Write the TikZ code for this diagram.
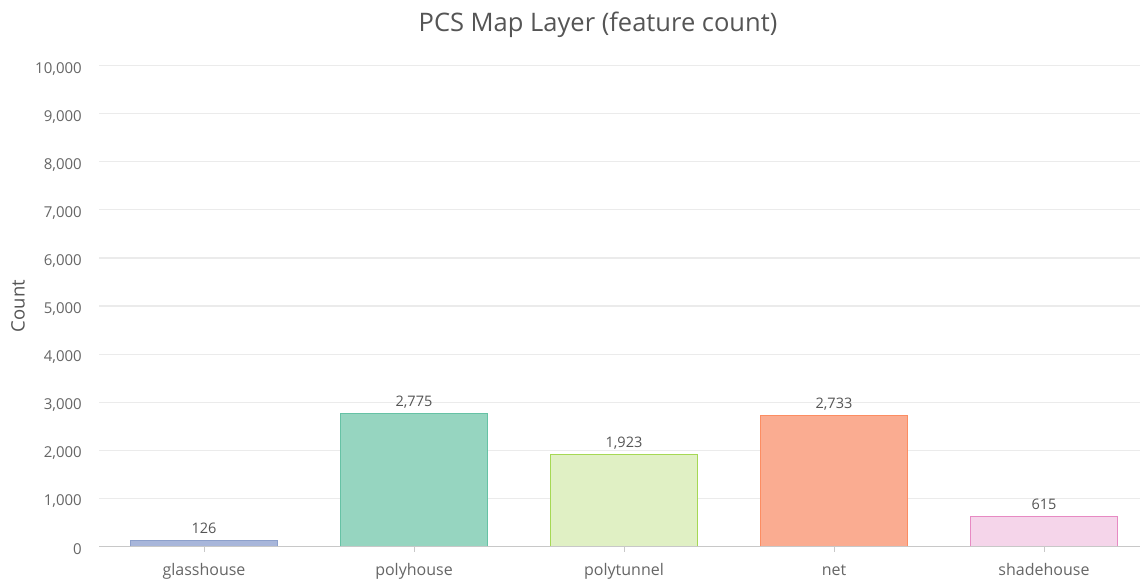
\documentclass[tikz,border=0pt]{standalone}
\usepackage{fontspec}
\setmainfont{Open Sans}
\definecolor{txt}{HTML}{555555}
\definecolor{ticktxt}{HTML}{666666}
\definecolor{gridc}{HTML}{EBEBEB}
\definecolor{axisc}{HTML}{C8C8C8}
\definecolor{gfill}{HTML}{A8B6DA}\definecolor{gline}{HTML}{8DA0CB}
\definecolor{pfill}{HTML}{96D5C0}\definecolor{pline}{HTML}{66C2A5}
\definecolor{tfill}{HTML}{E0F0C4}\definecolor{tline}{HTML}{A6D854}
\definecolor{nfill}{HTML}{FAAC91}\definecolor{nline}{HTML}{FC8D62}
\definecolor{sfill}{HTML}{F5D5EA}\definecolor{sline}{HTML}{E78AC3}
\begin{document}
\begin{tikzpicture}[x=1pt,y=-1pt,
  gridline/.style={gridc,line width=1.2pt},
  ytick/.style={anchor=base east,text=ticktxt,font=\fontsize{15}{15}\selectfont,inner sep=0pt},
  cat/.style={anchor=base,text=ticktxt,font=\fontsize{16}{16}\selectfont,inner sep=0pt},
  val/.style={anchor=base,text=txt,font=\fontsize{14.5}{14.5}\selectfont,inner sep=0pt},
  bar/.style={line width=1pt}]
\useasboundingbox[fill=white] (0,0) rectangle (1140,579);
% title and axis title
\node[anchor=base,text=txt,font=\fontsize{25.5}{25.5}\selectfont,inner sep=0pt] (title) at (598,31) {PCS Map Layer (feature count)};
\node[text=txt,font=\fontsize{18.5}{18.5}\selectfont,rotate=90,inner sep=0pt] (ytitle) at (18,306) {Count};
% horizontal grid lines and value axis labels
\foreach \v [count=\i from 0] in {0,{1,000},{2,000},{3,000},{4,000},{5,000},{6,000},{7,000},{8,000},{9,000},{10,000}}{
  \pgfmathsetmacro{\yy}{546.5-48.1*\i}
  \ifnum\i>0 \draw[gridline] (99,\yy) -- (1140,\yy); \fi
  \node[ytick] (yl\i) at (82,\yy+7.5) {\v};
}
% bars
\foreach \c/\h/\f/\l/\name/\lab [count=\k from 0] in
  {204/126/gfill/gline/glasshouse/126,
   414/2775/pfill/pline/polyhouse/{2,775},
   624/1923/tfill/tline/polytunnel/{1,923},
   834/2733/nfill/nline/net/{2,733},
   1044/615/sfill/sline/shadehouse/615}{
  \pgfmathsetmacro{\top}{546.5-0.0481*\h}
  \draw[bar,fill=\f,draw=\l] (\c-73.5,546.5) rectangle (\c+73.5,\top);
  \node[val] (v\k) at (\c,\top-7) {\lab};
  \draw[axisc,line width=1pt] (\c,546.5) -- (\c,552);
  \node[cat] (c\k) at (\c,575) {\name};
}
% category axis
\draw[axisc,line width=1.5pt] (99,546.5) -- (1140,546.5);
\end{tikzpicture}
\end{document}
